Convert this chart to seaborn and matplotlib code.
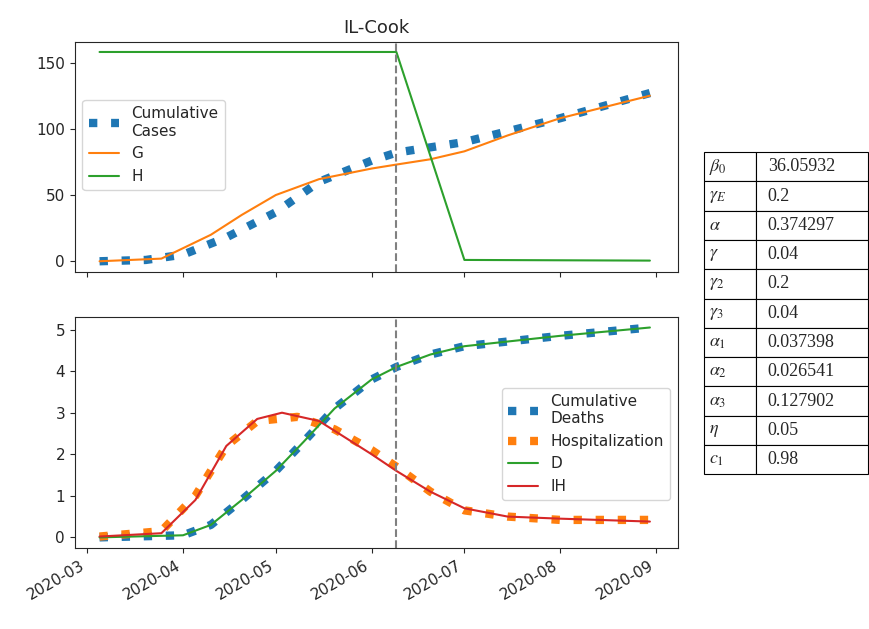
import pandas as pd
import numpy as np
import seaborn as sns
import matplotlib.pyplot as plt
import matplotlib.dates as mdates

sns.set_style("ticks")
plt.rcParams['font.family'] = ['DejaVu Sans']
plt.rcParams['mathtext.fontset'] = 'stix'

# values
case_dates = ["2020-03-05", "2020-03-20", "2020-04-01", "2020-04-15", "2020-05-01", "2020-05-15",
              "2020-06-01", "2020-06-09", "2020-07-01", "2020-08-01", "2020-08-30"]
cases = [0, 1, 5, 18, 37, 60, 76, 82, 90, 108, 127]

g_dates = ["2020-03-05", "2020-03-25", "2020-04-10", "2020-04-20", "2020-05-01", "2020-05-15",
           "2020-06-01", "2020-06-09", "2020-06-20", "2020-07-01", "2020-07-15", "2020-08-01", "2020-08-30"]
g_vals = [0, 2, 20, 35, 50, 62, 70, 73, 77, 83, 95, 108, 125]

h_dates = ["2020-03-05", "2020-06-09", "2020-07-01", "2020-08-30"]
h_vals = [158, 158, 1, 0.5]

death_dates = ["2020-03-05", "2020-04-01", "2020-04-10", "2020-04-20", "2020-05-01", "2020-05-10",
               "2020-05-20", "2020-06-01", "2020-06-09", "2020-06-20", "2020-07-01", "2020-08-01", "2020-08-30"]
deaths = [0, 0.05, 0.3, 0.9, 1.6, 2.3, 3.1, 3.8, 4.1, 4.4, 4.6, 4.85, 5.05]

hosp_dates = ["2020-03-05", "2020-03-25", "2020-04-05", "2020-04-15", "2020-04-25", "2020-05-08",
              "2020-05-20", "2020-06-01", "2020-06-09", "2020-06-20", "2020-07-01", "2020-07-15",
              "2020-08-01", "2020-08-30"]
hosp = [0.02, 0.15, 1.0, 2.2, 2.8, 2.9, 2.6, 2.1, 1.7, 1.1, 0.65, 0.5, 0.42, 0.42]

ih_dates = ["2020-03-05", "2020-03-25", "2020-04-05", "2020-04-15", "2020-04-25", "2020-05-03",
            "2020-05-15", "2020-06-01", "2020-06-09", "2020-06-20", "2020-07-01", "2020-07-15",
            "2020-08-01", "2020-08-30"]
ih = [0.02, 0.1, 0.9, 2.2, 2.85, 3.0, 2.8, 2.0, 1.6, 1.1, 0.7, 0.5, 0.45, 0.38]

split_date = "2020-06-09"

param_names = [r"$\beta_0$", r"$\gamma_E$", r"$\alpha$", r"$\gamma$", r"$\gamma_2$", r"$\gamma_3$",
               r"$\alpha_1$", r"$\alpha_2$", r"$\alpha_3$", r"$\eta$", r"$c_1$"]
param_vals = ["36.05932", "0.2", "0.374297", "0.04", "0.2", "0.04",
              "0.037398", "0.026541", "0.127902", "0.05", "0.98"]

blue, orange, green, red = "#1f77b4", "#ff7f0e", "#2ca02c", "#d62728"

fig = plt.figure(figsize=(8.7, 6.29), dpi=100)
ax1 = fig.add_axes([0.086, 0.568, 0.693, 0.366])
ax2 = fig.add_axes([0.086, 0.129, 0.693, 0.367], sharex=ax1)

sns.lineplot(x=pd.to_datetime(case_dates), y=cases, ax=ax1, color=blue, lw=6, ls=":",
             label="Cumulative\nCases")
sns.lineplot(x=pd.to_datetime(g_dates), y=g_vals, ax=ax1, color=orange, lw=1.5, label="G")
sns.lineplot(x=pd.to_datetime(h_dates), y=h_vals, ax=ax1, color=green, lw=1.5, label="H")
ax1.axvline(pd.Timestamp(split_date), color="grey", ls="--", lw=1.5)
ax1.set_title("IL-Cook", fontsize=13)
ax1.set_yticks([0, 50, 100, 150])
ax1.legend(loc="center left", bbox_to_anchor=(0.0, 0.55), fontsize=11)
plt.setp(ax1.get_xticklabels(), visible=False)

sns.lineplot(x=pd.to_datetime(death_dates), y=deaths, ax=ax2, color=blue, lw=6, ls=":",
             label="Cumulative\nDeaths")
sns.lineplot(x=pd.to_datetime(hosp_dates), y=hosp, ax=ax2, color=orange, lw=6, ls=":",
             label="Hospitalization")
sns.lineplot(x=pd.to_datetime(death_dates), y=deaths, ax=ax2, color=green, lw=1.5, label="D")
sns.lineplot(x=pd.to_datetime(ih_dates), y=ih, ax=ax2, color=red, lw=1.5, label="IH")
ax2.axvline(pd.Timestamp(split_date), color="grey", ls="--", lw=1.5)
ax2.set_yticks([0, 1, 2, 3, 4, 5])
ax2.legend(loc="center right", bbox_to_anchor=(1.0, 0.45), fontsize=11)
ax2.xaxis.set_major_locator(mdates.MonthLocator())
ax2.xaxis.set_major_formatter(mdates.DateFormatter("%Y-%m"))
ax2.set_xlim(pd.Timestamp("2020-02-26"), pd.Timestamp("2020-09-08"))
plt.setp(ax2.get_xticklabels(), rotation=30, ha="right")

for ax in (ax1, ax2):
    ax.tick_params(labelsize=11)
    ax.set_xlabel("")

tax = fig.add_axes([0.809, 0.246, 0.189, 0.512])
tax.axis("off")
tbl = tax.table(cellText=[[n, v] for n, v in zip(param_names, param_vals)],
                colWidths=[0.32, 0.68], loc="center", bbox=[0, 0, 1, 1], cellLoc="left")
tbl.auto_set_font_size(False)
for (r, c), cell in tbl.get_celld().items():
    cell.set_text_props(fontsize=13, family="Liberation Serif")
    cell.set_linewidth(0.8)

fig.savefig("out.png", dpi=100)
